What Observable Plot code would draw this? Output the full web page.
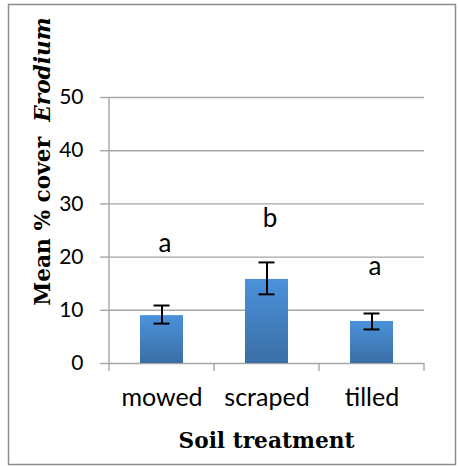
<!DOCTYPE html>
<html>
<head>
<meta charset="utf-8">
<script src="https://cdn.jsdelivr.net/npm/d3@7"></script>
<script src="https://cdn.jsdelivr.net/npm/@observablehq/plot@0.6"></script>
<style>
  html, body { margin: 0; padding: 0; background: #fff; }
  #chart svg { display: block; }
</style>
</head>
<body>
<div id="chart"></div>
<script>
const categories = ["mowed", "scraped", "tilled"];
const means = [9.0, 15.8, 7.9];
const errLow = [7.5, 13.0, 6.4];
const errHigh = [10.9, 19.0, 9.4];
const letters = ["a", "b", "a"];
const letterY = [22.5, 27.3, 18.2];
const yTicks = [0, 10, 20, 30, 40, 50];
const xTitle = "Soil treatment";
const yTitleMain = "Mean % cover\u00a0 ";
const yTitleItalic = "Erodium";

const data = categories.map((c, i) => ({
  cat: c, mean: means[i], lo: errLow[i], hi: errHigh[i], letter: letters[i], ly: letterY[i]
}));

const W = 459, H = 466;
const mL = 109, mR = 35, mT = 97, mB = 103;
const pad = 0.59;
const grid = "#a6a6a6";

const defs = () => {
  const d = d3.create("svg:defs");
  const g = d.append("linearGradient").attr("id", "barGrad")
    .attr("x1", 0).attr("y1", 0).attr("x2", 0).attr("y2", 1);
  g.append("stop").attr("offset", "0%").attr("stop-color", "#4b92db");
  g.append("stop").attr("offset", "100%").attr("stop-color", "#3a6ea6");
  return d.node();
};

const plot = Plot.plot({
  width: W, height: H,
  marginLeft: mL, marginRight: mR, marginTop: mT, marginBottom: mB,
  style: { background: "#fff", fontFamily: "Lato, sans-serif", color: "#000" },
  x: { domain: categories, paddingInner: pad, paddingOuter: pad / 2, label: null },
  y: { domain: [0, 50], label: null },
  marks: [
    defs,
    Plot.gridY(yTicks, { stroke: grid, strokeOpacity: 1, strokeWidth: 1.4 }),
    Plot.axisY({ ticks: yTicks, tickSize: 9, tickPadding: 17, stroke: grid, strokeWidth: 1.4, fontSize: 21, fill: "#000", label: null }),
    Plot.axisX({ tickSize: 0, tickPadding: 25, fontSize: 25, fill: "#000", label: null }),
    Plot.barY(data, { x: "cat", y: "mean", fill: "url(#barGrad)" }),
    Plot.ruleX(data, { x: "cat", y1: "lo", y2: "hi", stroke: "#000", strokeWidth: 2 }),
    Plot.tickY(data, { x: "cat", y: "lo", stroke: "#000", strokeWidth: 2, insetLeft: 13.5, insetRight: 13.5 }),
    Plot.tickY(data, { x: "cat", y: "hi", stroke: "#000", strokeWidth: 2, insetLeft: 13.5, insetRight: 13.5 }),
    Plot.text(data, { x: "cat", y: "ly", text: "letter", fontSize: 26, fill: "#000", dx: 3 })
  ]
});

const svg = d3.select(plot);
const xs = plot.scale("x");
const ys = plot.scale("y");
const y0 = ys.apply(0), yTop = ys.apply(50);
// category boundary ticks and left axis line
const bounds = categories.map(c => xs.apply(c) + xs.bandwidth / 2 - xs.step / 2);
bounds.push(bounds[bounds.length - 1] + xs.step);
const extra = svg.append("g").attr("stroke", grid).attr("stroke-width", 1.4);
bounds.forEach(b => {
  extra.append("line").attr("x1", b).attr("x2", b).attr("y1", y0).attr("y2", y0 + 8);
});
extra.append("line").attr("x1", bounds[0]).attr("x2", bounds[0]).attr("y1", yTop).attr("y2", y0);

// x title
svg.append("text")
  .attr("x", (bounds[0] + bounds[bounds.length - 1]) / 2)
  .attr("y", 448)
  .attr("text-anchor", "middle")
  .attr("font-family", "'DejaVu Serif', serif")
  .attr("font-weight", "bold")
  .attr("font-size", 21.7)
  .attr("fill", "#000")
  .text(xTitle);

// y title
const yt = svg.append("text")
  .attr("transform", `translate(50, 161.5) rotate(-90)`)
  .attr("text-anchor", "middle")
  .attr("font-family", "'DejaVu Serif', serif")
  .attr("font-weight", "bold")
  .attr("font-size", 21.7)
  .attr("fill", "#000");
yt.append("tspan").text(yTitleMain);
yt.append("tspan").attr("font-style", "italic").text(yTitleItalic);

// outer border
svg.append("rect").attr("x", 8.5).attr("y", 4.5).attr("width", 447).attr("height", 460)
  .attr("fill", "none").attr("stroke", "#8c8c8c").attr("stroke-width", 1.5);

document.getElementById("chart").appendChild(plot);
</script>
</body>
</html>
